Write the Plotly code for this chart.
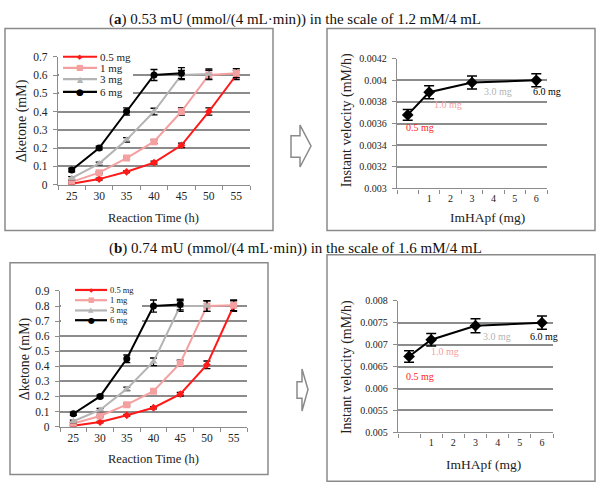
import plotly.graph_objects as go

W, H = 599, 496


def px(x):
    return x / W


def py(y):
    return 1 - y / H


# ---------------- data ----------------
time_h = [25, 30, 35, 40, 45, 50, 55]
series_names = ["0.5 mg", "1 mg", "3 mg", "6 mg"]

a_05 = [0.005, 0.03, 0.07, 0.12, 0.215, 0.40, 0.60]
a_05_err = [0.004, 0.005, 0.005, 0.008, 0.012, 0.02, 0.025]
a_1 = [0.015, 0.065, 0.145, 0.235, 0.40, 0.60, 0.61]
a_1_err = [0.005, 0.005, 0.006, 0.01, 0.02, 0.025, 0.025]
a_3 = [0.035, 0.115, 0.245, 0.40, 0.60, 0.605]
a_3_err = [0.008, 0.008, 0.012, 0.018, 0.025, 0.028]
a_6 = [0.08, 0.20, 0.40, 0.60, 0.61]
a_6_err = [0.01, 0.01, 0.02, 0.03, 0.03]

b_05 = [0.005, 0.03, 0.075, 0.125, 0.215, 0.41, 0.80]
b_05_err = [0.004, 0.005, 0.005, 0.008, 0.012, 0.025, 0.035]
b_1 = [0.02, 0.07, 0.145, 0.235, 0.42, 0.80, 0.805]
b_1_err = [0.005, 0.006, 0.008, 0.01, 0.02, 0.035, 0.035]
b_3 = [0.035, 0.11, 0.25, 0.43, 0.80, 0.80]
b_3_err = [0.008, 0.01, 0.012, 0.025, 0.035, 0.035]
b_6 = [0.085, 0.20, 0.45, 0.80, 0.81]
b_6_err = [0.01, 0.01, 0.025, 0.04, 0.035]

dose_mg = [0.5, 1, 3, 6]
dose_labels = ["0.5 mg", "1.0 mg", "3.0 mg", "6.0 mg"]
dose_ticks = ["1", "2", "3", "4", "5", "6"]

vel_a = [0.00368, 0.00389, 0.00398, 0.00400]
vel_a_err = [0.00005, 0.00006, 0.00006, 0.00006]
vel_b = [0.00673, 0.00711, 0.00743, 0.00750]
vel_b_err = [0.00013, 0.00014, 0.00016, 0.00015]

vel_a_ticks = [0.003, 0.0032, 0.0034, 0.0036, 0.0038, 0.004, 0.0042]
vel_a_ticktext = ["0.003", "0.0032", "0.0034", "0.0036", "0.0038", "0.004", "0.0042"]
vel_b_ticks = [0.005, 0.0055, 0.006, 0.0065, 0.007, 0.0075, 0.008]
vel_b_ticktext = ["0.005", "0.0055", "0.006", "0.0065", "0.007", "0.0075", "0.008"]

title_a = "(<b>a</b>) 0.53 mU (mmol/(4 mL·min)) in the scale of 1.2 mM/4 mL"
title_b = "(<b>b</b>) 0.74 mU (mmol/(4 mL·min)) in the scale of 1.6 mM/4 mL"

# ---------------- styles ----------------
RED = "#ff1a1a"
PINK = "#f5a0a0"
GRAY = "#b4b4b4"
BLACK = "#000000"
GRID = "#8c8c8c"
FONT = "Liberation Serif"
TXT = "#222222"

colors = [RED, PINK, GRAY, BLACK]
symbols = ["diamond", "square", "triangle-up", "circle"]
msizes = [6, 7, 7, 7]

fig = go.Figure()

# slot on the category-like dose axis (0.5 mg sits in the first, unlabeled slot)
dose_slot = [int(d) for d in dose_mg]


def add_time_series(ys, errs, xa, ya):
    for i, (y, e) in enumerate(zip(ys, errs)):
        fig.add_trace(go.Scatter(
            x=time_h[:len(y)], y=y, mode="lines+markers",
            name=series_names[i],
            line=dict(color=colors[i], width=2),
            marker=dict(symbol=symbols[i], size=msizes[i], color=colors[i]),
            error_y=dict(type="data", array=e, color=BLACK, thickness=1.3, width=3.5),
            xaxis=xa, yaxis=ya, showlegend=False,
        ))


add_time_series([a_05, a_1, a_3, a_6], [a_05_err, a_1_err, a_3_err, a_6_err], "x", "y")
add_time_series([b_05, b_1, b_3, b_6], [b_05_err, b_1_err, b_3_err, b_6_err], "x3", "y3")


def add_vel(v, e, xa, ya):
    fig.add_trace(go.Scatter(
        x=dose_slot, y=v, mode="lines+markers",
        line=dict(color=BLACK, width=2),
        marker=dict(symbol="diamond", size=9, color=BLACK),
        error_y=dict(type="data", array=e, color=BLACK, thickness=1.5, width=5),
        xaxis=xa, yaxis=ya, showlegend=False,
    ))


add_vel(vel_a, vel_a_err, "x2", "y2")
add_vel(vel_b, vel_b_err, "x4", "y4")

tickfont = dict(family=FONT, size=11.5, color=TXT)
tickfont_s = dict(family=FONT, size=10, color=TXT)


def xcat_time(dom, anchor):
    return dict(domain=dom, anchor=anchor, range=[22.5, 57.5], tickmode="array",
                tickvals=time_h, ticktext=[str(t) for t in time_h], ticks="",
                showline=True, linecolor=GRID, linewidth=1.3, showgrid=False,
                zeroline=False, tickfont=tickfont,
                minor=dict(tickmode="linear", tick0=22.5, dtick=5, ticks="outside",
                           ticklen=4, tickcolor=GRID, tickwidth=1.2, showgrid=False))


def xdose(dom, anchor):
    return dict(domain=dom, anchor=anchor, range=[-0.5, 6.5], tickmode="array",
                tickvals=[1, 2, 3, 4, 5, 6], ticktext=dose_ticks, ticks="",
                showline=True, linecolor=GRID, linewidth=1.3, showgrid=False,
                zeroline=False, tickfont=tickfont_s,
                minor=dict(tickmode="linear", tick0=-0.5, dtick=1, ticks="outside",
                           ticklen=4, tickcolor=GRID, tickwidth=1.2, showgrid=False))


def yax(dom, anchor, rng, **kw):
    d = dict(domain=dom, anchor=anchor, range=rng, ticks="outside", ticklen=4,
             tickcolor=GRID, tickwidth=1.2, showline=True, linecolor=GRID,
             linewidth=1.3, showgrid=True, gridcolor=GRID, gridwidth=1.5,
             zeroline=False, ticklabelstandoff=3)
    d.update(kw)
    return d


fig.update_layout(
    width=W, height=H, autosize=False,
    margin=dict(l=0, r=0, t=0, b=0),
    paper_bgcolor="white", plot_bgcolor="white",
    showlegend=False, hovermode=False,
    xaxis=xcat_time([px(58), px(250)], "y"),
    yaxis=yax([py(183), py(52)], "x", [0, 0.7], dtick=0.1, tickfont=tickfont),
    xaxis2=xdose([px(397), px(547)], "y2"),
    yaxis2=yax([py(187), py(54)], "x2", [0.003, 0.0042], tickmode="array",
               tickvals=vel_a_ticks, ticktext=vel_a_ticktext, tickfont=tickfont_s),
    xaxis3=xcat_time([px(60), px(247)], "y3"),
    yaxis3=yax([py(431), py(292)], "x3", [0, 0.9], dtick=0.1, tickfont=tickfont),
    xaxis4=xdose([px(398), px(553)], "y4"),
    yaxis4=yax([py(437), py(302)], "x4", [0.005, 0.008], tickmode="array",
               tickvals=vel_b_ticks, ticktext=vel_b_ticktext, tickfont=tickfont_s),
)

shapes = []
annots = []

# panel frames
for (x0, y0, x1, y1) in [(5, 23, 273, 230), (327, 23, 595, 230),
                         (10, 263, 268, 480), (327, 255, 595, 487)]:
    shapes.append(dict(type="rect", xref="paper", yref="paper",
                       x0=px(x0), x1=px(x1), y0=py(y0), y1=py(y1),
                       line=dict(color="#8a8a8a", width=1.5), fillcolor="rgba(0,0,0,0)",
                       layer="below"))


# hollow arrows
def arrow(xl, xb, xt, yst, ysb, yht, yhb, ytip):
    pts = [(xl, yst), (xb, yst), (xb, yht), (xt, ytip), (xb, yhb), (xb, ysb), (xl, ysb)]
    path = "M " + " L ".join(f"{px(a):.5f},{py(b):.5f}" for a, b in pts) + " Z"
    shapes.append(dict(type="path", xref="paper", yref="paper", path=path,
                       line=dict(color="#8a8a8a", width=1.5), fillcolor="white"))


arrow(291, 300, 311, 133, 155, 122, 165, 143.5)
arrow(297, 302, 308, 385, 402, 372, 415, 393)


# legends (drawn as keys)
def legend_block(x0, y0, x1, y1, lx0, lx1, rows, fs, msz):
    shapes.append(dict(type="rect", xref="paper", yref="paper",
                       x0=px(x0), x1=px(x1), y0=py(y0), y1=py(y1),
                       line=dict(width=0), fillcolor="white", layer="above"))
    sym_chars = ["◆", "■", "▲", "●"]
    for i, yy in enumerate(rows):
        shapes.append(dict(type="line", xref="paper", yref="paper",
                           x0=px(lx0), x1=px(lx1), y0=py(yy), y1=py(yy),
                           line=dict(color=colors[i], width=2.2), layer="above"))
        annots.append(dict(xref="paper", yref="paper", x=px((lx0 + lx1) / 2), y=py(yy),
                           text=sym_chars[i], showarrow=False, xanchor="center",
                           yanchor="middle",
                           font=dict(family="DejaVu Sans", size=msz[i], color=colors[i])))
        annots.append(dict(xref="paper", yref="paper", x=px(lx1 + 1), y=py(yy),
                           text=series_names[i], showarrow=False, xanchor="left",
                           yanchor="middle", font=dict(family=FONT, size=fs, color=TXT)))


legend_block(59, 45, 133, 95, 63, 97, [52, 63.5, 75, 88], 11, [7, 8, 8, 9])
legend_block(61, 284, 142, 328, 75, 107, [291, 301.5, 312, 322], 8.5, [6, 7, 7, 8])

# titles
annots.append(dict(xref="paper", yref="paper", x=px(295), y=py(14), text=title_a,
                   showarrow=False, xanchor="center", yanchor="middle",
                   font=dict(family=FONT, size=15, color="#111")))
annots.append(dict(xref="paper", yref="paper", x=px(295), y=py(248), text=title_b,
                   showarrow=False, xanchor="center", yanchor="middle",
                   font=dict(family=FONT, size=15, color="#111")))

# axis titles
for (x, y, t, ang, fs) in [(153, 217, "Reaction Time (h)", 0, 12.5),
                           (22, 118, "Δketone (mM)", -90, 14),
                           (487, 217, "ImHApf (mg)", 0, 13.5),
                           (347, 117, "Instant velocity (mM/h)", -90, 14),
                           (153, 464, "Reaction Time (h)", 0, 12.5),
                           (25, 362, "Δketone (mM)", -90, 14),
                           (483, 470, "ImHApf (mg)", 0, 13.5),
                           (347, 370, "Instant velocity (mM/h)", -90, 14)]:
    annots.append(dict(xref="paper", yref="paper", x=px(x), y=py(y), text=t,
                       showarrow=False, xanchor="center", yanchor="middle",
                       textangle=ang, font=dict(family=FONT, size=fs, color=TXT)))

# dose labels near the velocity points
lab_a_shift = [(12, -13), (19, -12), (26, -9), (11, -11)]
lab_b_shift = [(11, -20), (14, -12), (21, -11), (2, -14)]
for xa, ya, vals, shifts in [("x2", "y2", vel_a, lab_a_shift), ("x4", "y4", vel_b, lab_b_shift)]:
    for i in range(len(dose_mg)):
        annots.append(dict(xref=xa, yref=ya, x=dose_slot[i], y=vals[i],
                           text=dose_labels[i], showarrow=False,
                           xshift=shifts[i][0], yshift=shifts[i][1],
                           font=dict(family=FONT, size=10, color=colors[i])))

fig.update_layout(shapes=shapes, annotations=annots)
fig.write_html("out.html", config={"displayModeBar": False},
               post_script="document.body.style.margin='0';")
